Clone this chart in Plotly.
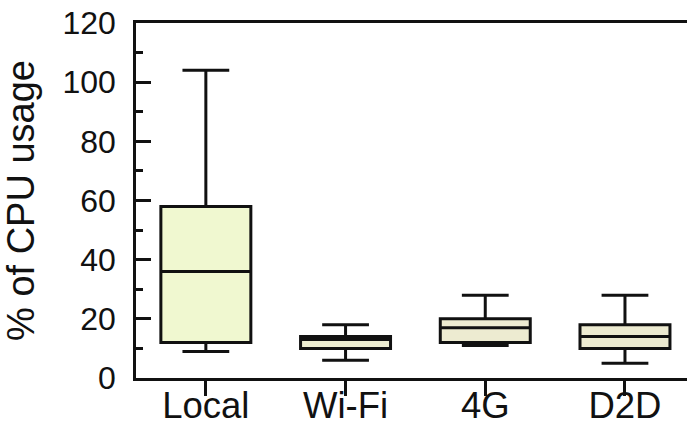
import plotly.graph_objects as go

categories = ["Local", "Wi-Fi", "4G", "D2D"]
lower_whisker = [9, 6, 11, 5]
q1_vals = [12, 10, 12, 10]
median_vals = [36, 13, 17, 14]
q3_vals = [58, 14, 20, 18]
upper_whisker = [104, 18, 28, 28]
fill_colors = ["#F0F8D0", "#EDEDD1", "#EDEBD1", "#ECEAD0"]
y_ticks = [0, 20, 40, 60, 80, 100, 120]

fig = go.Figure()
for i, cat in enumerate(categories):
    fig.add_trace(go.Box(
        x=[cat],
        q1=[q1_vals[i]], median=[median_vals[i]], q3=[q3_vals[i]],
        lowerfence=[lower_whisker[i]], upperfence=[upper_whisker[i]],
        fillcolor=fill_colors[i],
        line=dict(color="#111111", width=3),
        width=0.644,
        whiskerwidth=0.52,
        boxpoints=False,
        showlegend=False,
        hoverinfo="skip",
    ))

fig.update_layout(
    width=687, height=423,
    margin=dict(l=136, r=0, t=23, b=45),
    paper_bgcolor="white", plot_bgcolor="white",
    font=dict(family="Liberation Sans, Arial, sans-serif", color="#111111"),
)
fig.update_xaxes(
    type="category",
    range=[-0.5, 3.444],
    automargin=False,
    showline=True, linecolor="#111111", linewidth=2.5, mirror=True,
    ticks="outside", ticklen=15, tickwidth=2.5, tickcolor="#111111",
    ticklabelstandoff=-22,
    tickfont=dict(size=36.5),
    showgrid=False,
)
fig.update_yaxes(
    range=[0, 120],
    tickvals=y_ticks,
    automargin=False,
    showline=True, linecolor="#111111", linewidth=2.5,
    ticks="inside", ticklen=15, tickwidth=2.5, tickcolor="#111111",
    minor=dict(ticks="inside", ticklen=7, tickwidth=2.5, tickcolor="#111111", dtick=10, showgrid=False),
    ticklabelstandoff=11,
    tickfont=dict(size=32),
    showgrid=False, zeroline=False,
    title=dict(text="% of CPU usage", font=dict(size=38), standoff=20),
)

fig.write_html(
    "out.html",
    config={"displayModeBar": False},
    post_script="document.body.style.margin='0';document.body.style.overflow='hidden';",
)
